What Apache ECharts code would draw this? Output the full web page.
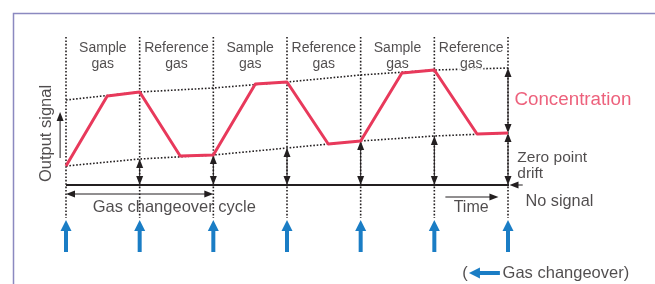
<!DOCTYPE html>
<html>
<head>
<meta charset="utf-8">
<script src="https://cdn.jsdelivr.net/npm/echarts@6/dist/echarts.min.js"></script>
<style>
  html, body { margin: 0; padding: 0; background: #fff; }
  #chart { width: 655px; height: 284px; }
</style>
</head>
<body>
<div id="chart"></div>
<script>
// x = time in gas changeovers (half cycles), y = output signal (0 = no signal)
const changeovers = [0, 1, 2, 3, 4, 5, 6];
const phaseLabels = ['Sample', 'Reference', 'Sample', 'Reference', 'Sample', 'Reference'];
const signalTime = [0, 0.56, 1, 1.55, 2, 2.57, 3, 3.56, 4, 4.56, 5, 5.58, 6];
const signalValue = [19, 89, 93, 29, 30, 101, 103, 41, 44, 112, 115, 51, 52];
const spanDrift = [85, 93, 97, 103, 110, 115, 117];   // upper dotted envelope
const zeroDrift = [19, 26, 30, 37, 44, 49, 52];       // lower dotted envelope (zero point)
const guideTop = 148, guideBottom = -33;
const noSignalEnd = 7.02;

const ink = '#231f20';
const red = '#e8395b';
const blue = '#1a7dc5';
const font = '"Liberation Sans", Arial, Helvetica, sans-serif';

const chart = echarts.init(document.getElementById('chart'));

// arrows: [x1, y1, x2, y2, headAtStart, headAtEnd]
const blackArrows = [];
changeovers.slice(1, 6).forEach(t => blackArrows.push([t, zeroDrift[t], t, 0, 1, 1]));
blackArrows.push([6, spanDrift[6], 6, signalValue[signalValue.length - 1], 1, 1]); // concentration
blackArrows.push([6, zeroDrift[6], 6, 0, 1, 1]);                                    // zero point drift
blackArrows.push([6.2, 0, 6.02, 0, 0, 1]);     // pointer at no signal
blackArrows.push([-0.08, 27, -0.08, 73, 0, 1]); // output signal
blackArrows.push([0, -9, 2, -9, 1, 1]);         // gas changeover cycle
blackArrows.push([5.15, -12, 5.87, -12, 0, 1]); // time

const blueArrows = changeovers.map(t => [t, -67, t, -35, 0, 1]);
blueArrows.push([5.89, -88, 5.47, -88, 0, 1]);  // legend arrow

function arrowSeries(data, color, shaftWidth, headLen, headHalf) {
  return {
    type: 'custom',
    silent: true,
    z: 3,
    data: data,
    encode: { x: [0, 2], y: [1, 3] },
    renderItem: function (params, api) {
      const p1 = api.coord([api.value(0), api.value(1)]);
      const p2 = api.coord([api.value(2), api.value(3)]);
      const hs = api.value(4), he = api.value(5);
      const dx = p2[0] - p1[0], dy = p2[1] - p1[1];
      const len = Math.sqrt(dx * dx + dy * dy);
      const ux = dx / len, uy = dy / len, nx = -uy, ny = ux;
      const head = (tip, sx) => ({
        type: 'polygon',
        shape: { points: [
          tip,
          [tip[0] - sx * ux * headLen + nx * headHalf, tip[1] - sx * uy * headLen + ny * headHalf],
          [tip[0] - sx * ux * headLen - nx * headHalf, tip[1] - sx * uy * headLen - ny * headHalf]
        ] },
        style: { fill: color }
      });
      const a = hs ? [p1[0] + ux * headLen * 0.8, p1[1] + uy * headLen * 0.8] : p1;
      const b = he ? [p2[0] - ux * headLen * 0.8, p2[1] - uy * headLen * 0.8] : p2;
      const children = [{
        type: 'line',
        shape: { x1: a[0], y1: a[1], x2: b[0], y2: b[1] },
        style: { stroke: color, lineWidth: shaftWidth }
      }];
      if (hs) children.push(head(p1, -1));
      if (he) children.push(head(p2, 1));
      return { type: 'group', children: children };
    }
  };
}

function textSeries(items, label) {
  return {
    type: 'scatter',
    symbolSize: 1,
    clip: false,
    silent: true,
    z: 5,
    itemStyle: { color: 'transparent' },
    data: items.map(d => ({ value: [d[0], d[1]], name: d[2] })),
    label: Object.assign({ show: true, formatter: '{b}', color: ink, fontFamily: font }, label)
  };
}

const dotted = { color: ink, width: 1.6, type: [1.6, 1.8] };

const guideSeries = changeovers.map(t => ({
  type: 'line', symbol: 'none', silent: true, clip: false, z: 1,
  lineStyle: dotted,
  data: [[t, guideTop], [t, guideBottom]]
}));

const phaseItems = phaseLabels.map((p, i) => [changeovers[i] + 0.5, 129, p]);

chart.setOption({
  animation: false,
  grid: { left: 66, right: 147, top: 0, bottom: 0 },
  xAxis: { type: 'value', min: 0, max: 6, show: false },
  yAxis: { type: 'value', min: -99, max: 185, show: false },
  graphic: [{
    type: 'polyline',
    shape: { points: [[13.5, 284], [13.5, 13.5], [655, 13.5]] },
    style: { stroke: '#8b89c0', lineWidth: 1.5, fill: null }
  }],
  series: guideSeries.concat([
    {
      type: 'line', symbol: 'none', silent: true, z: 2,
      lineStyle: dotted,
      data: changeovers.map((t, i) => [t, spanDrift[i]])
    },
    {
      type: 'line', symbol: 'none', silent: true, z: 2,
      lineStyle: dotted,
      data: changeovers.map((t, i) => [t, zeroDrift[i]])
    },
    {
      type: 'line', symbol: 'none', silent: true, clip: false, z: 2,
      lineStyle: { color: ink, width: 2 },
      data: [[0, 0], [noSignalEnd, 0]]
    },
    {
      type: 'line', symbol: 'none', silent: true, z: 4,
      lineStyle: { color: red, width: 3, join: 'round' },
      data: signalTime.map((t, i) => [t, signalValue[i]])
    },
    arrowSeries(blackArrows, ink, 1, 9, 3.5),
    arrowSeries(blueArrows, blue, 4, 11, 5.5),
    textSeries(phaseItems, {
      position: 'inside',
      formatter: p => '{a|' + p.name + '}\n{b|gas}',
      rich: {
        a: { fontFamily: font, fontSize: 14, lineHeight: 16, color: ink },
        b: { fontFamily: font, fontSize: 14, lineHeight: 16, color: ink, backgroundColor: '#fff', padding: [0, 1] }
      }
    }),
    textSeries([[-0.27, 51.5, 'Output signal']], { position: 'inside', rotate: 90, fontSize: 16.5 }),
    textSeries([[1.47, -22, 'Gas changeover cycle']], { position: 'inside', fontSize: 16.5 }),
    textSeries([[5.5, -23, 'Time']], { position: 'inside', fontSize: 16 }),
    textSeries([[6.23, -17, 'No signal']], { position: 'right', distance: 0, fontSize: 16.3 }),
    textSeries([[6.12, 19, 'Zero point\ndrift']], { position: 'right', distance: 0, fontSize: 15.5, lineHeight: 16 }),
    textSeries([[6.08, 85, 'Concentration']], { position: 'right', distance: 0, fontSize: 18.8, color: red }),
    textSeries([[5.46, -88, '(']], { position: 'left', distance: 0, fontSize: 16.5 }),
    textSeries([[5.92, -88, 'Gas changeover)']], { position: 'right', distance: 0, fontSize: 16.5 })
  ])
});
</script>
</body>
</html>
